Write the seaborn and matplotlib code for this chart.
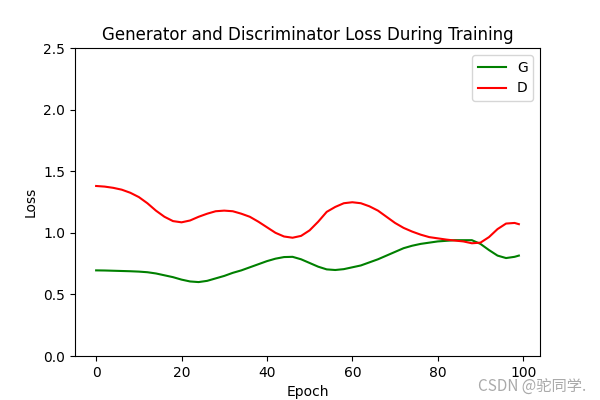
import matplotlib
matplotlib.use("Agg")
import matplotlib.pyplot as plt
import seaborn as sns
import pandas as pd

epochs = [0, 2, 4, 6, 8, 10, 12, 14, 16, 18, 20, 22, 24, 26, 28, 30, 32, 34,
          36, 38, 40, 42, 44, 46, 48, 50, 52, 54, 56, 58, 60, 62, 64, 66, 68,
          70, 72, 74, 76, 78, 80, 82, 84, 86, 88, 90, 92, 94, 96, 98, 99]
g_loss = [0.695, 0.694, 0.692, 0.690, 0.688, 0.685, 0.680, 0.670, 0.655, 0.640,
          0.620, 0.605, 0.600, 0.610, 0.630, 0.650, 0.675, 0.695, 0.720, 0.745,
          0.770, 0.790, 0.803, 0.805, 0.785, 0.755, 0.725, 0.703, 0.698, 0.705,
          0.720, 0.735, 0.760, 0.785, 0.815, 0.845, 0.875, 0.895, 0.910, 0.920,
          0.930, 0.935, 0.940, 0.940, 0.940, 0.910, 0.860, 0.815, 0.795, 0.805,
          0.815]
d_loss = [1.380, 1.375, 1.365, 1.350, 1.325, 1.290, 1.240, 1.180, 1.130, 1.095,
          1.085, 1.100, 1.130, 1.155, 1.175, 1.180, 1.175, 1.155, 1.130, 1.090,
          1.045, 1.000, 0.970, 0.960, 0.975, 1.020, 1.090, 1.170, 1.210, 1.240,
          1.248, 1.240, 1.215, 1.180, 1.130, 1.080, 1.040, 1.010, 0.985, 0.965,
          0.955, 0.945, 0.937, 0.930, 0.915, 0.920, 0.965, 1.030, 1.075, 1.080,
          1.070]

df = pd.DataFrame({"Epoch": epochs, "G": g_loss, "D": d_loss})

fig, ax = plt.subplots(figsize=(6, 4), dpi=100)
sns.lineplot(data=df, x="Epoch", y="G", color="green", label="G", ax=ax)
sns.lineplot(data=df, x="Epoch", y="D", color="red", label="D", ax=ax)
ax.set_ylim(0, 2.5)
ax.set_xlabel("Epoch")
ax.set_ylabel("Loss")
ax.set_title("Generator and Discriminator Loss During Training")
ax.legend(loc="upper right")
fig.text(0.977, 0.033, "CSDN @驼同学.", ha="right", va="center", color="#aaaaaa",
         fontsize=11, family=["Noto Sans CJK SC", "DejaVu Sans"])
fig.savefig("out.png", dpi=100)
